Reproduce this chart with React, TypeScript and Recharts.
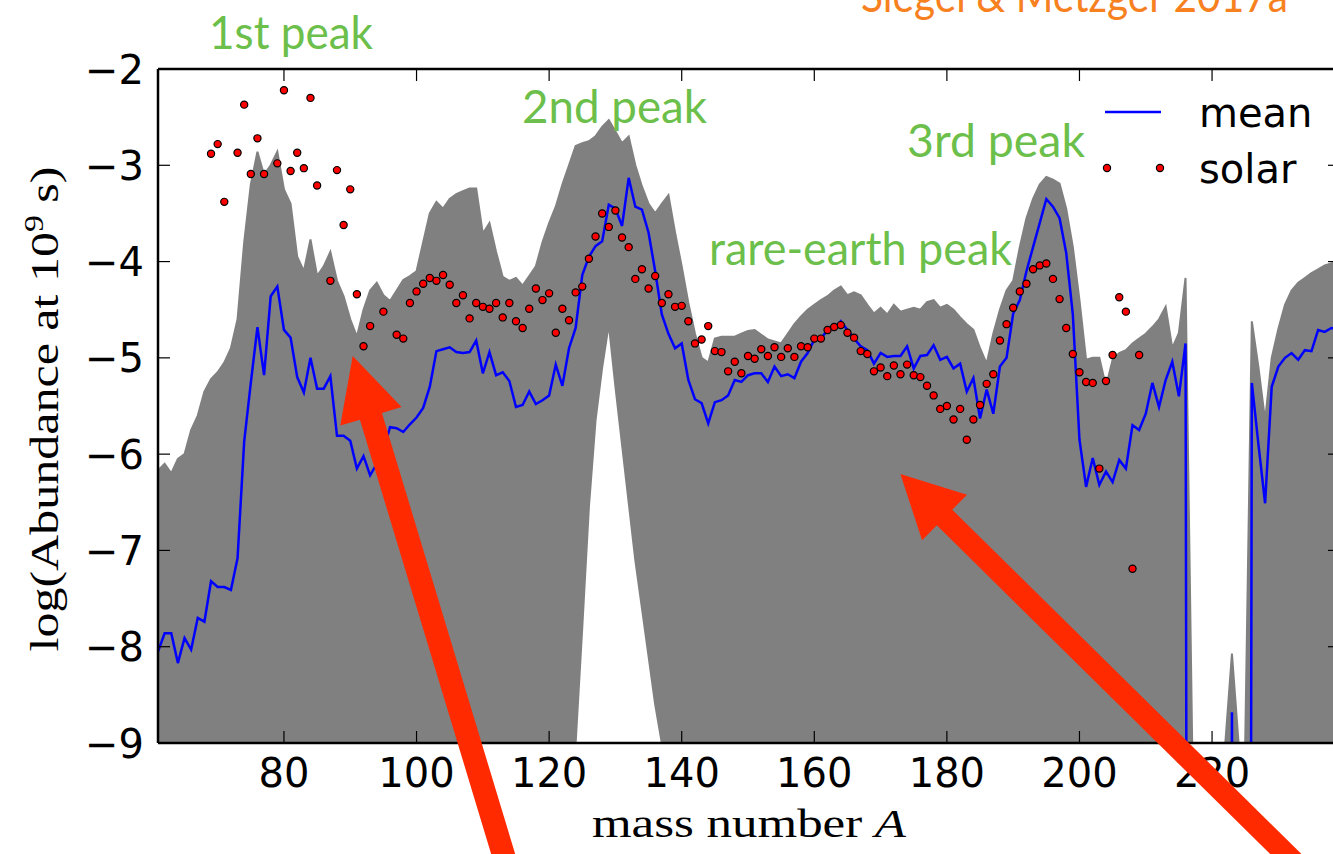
import React from 'react';
import { ComposedChart, Area, Line, XAxis, YAxis, Legend } from 'recharts';

// mass numbers run from 61 upward in steps of one
const MASS_FIRST = 61;

// mean log abundance at 1e9 s, A = 61..239 (very low values fall below the frame)
const meanAbund = [
  -8.05, -7.86, -7.86, -8.17, -7.91, -8.03, -7.70, -7.74, -7.32, -7.38,
  -7.38, -7.41, -7.08, -5.87, -5.26, -4.68, -5.18, -4.36, -4.26, -4.71,
  -4.79, -5.20, -5.36, -5.00, -5.32, -5.32, -5.19, -5.81, -5.81, -5.86,
  -6.15, -6.02, -6.22, -6.10, -5.96, -5.72, -5.73, -5.77, -5.69, -5.62,
  -5.52, -5.30, -4.93, -4.91, -4.89, -4.94, -4.95, -4.94, -4.82, -5.16,
  -4.94, -5.18, -5.15, -5.24, -5.51, -5.49, -5.35, -5.48, -5.44, -5.39,
  -5.07, -5.29, -4.90, -4.69, -4.14, -3.95, -3.84, -3.79, -3.41, -3.45,
  -3.63, -3.13, -3.43, -3.46, -3.70, -4.10, -4.55, -4.75, -4.90, -4.85,
  -5.23, -5.43, -5.47, -5.68, -5.46, -5.44, -5.39, -5.23, -5.25, -5.18,
  -5.16, -5.16, -5.25, -5.09, -5.19, -5.17, -5.21, -5.04, -4.95, -4.81,
  -4.80, -4.71, -4.69, -4.62, -4.71, -4.80, -4.88, -4.92, -5.06, -4.95,
  -4.99, -4.98, -4.98, -4.88, -5.11, -4.98, -4.97, -4.87, -5.02, -4.99,
  -5.11, -5.06, -5.35, -5.21, -5.63, -5.33, -5.58, -5.09, -5.00, -4.54,
  -4.40, -4.10, -3.85, -3.60, -3.35, -3.43, -3.55, -3.91, -4.55, -5.85,
  -6.34, -6.04, -6.32, -6.18, -6.29, -6.06, -6.15, -5.70, -5.75, -5.58,
  -5.26, -5.51, -5.23, -5.04, -5.40, -4.85, -40, -40, -40, -40,
  -40, -40, -8.68, -40, -40, -5.26, -5.90, -6.51, -5.30, -5.09,
  -5.00, -4.95, -5.02, -4.92, -4.93, -4.71, -4.73, -4.69, -4.70,
];

// upper edge of the bundle of individual runs
const envTop = [
  -6.17, -6.10, -6.20, -6.05, -6.00, -5.75, -5.60, -5.35, -5.22, -5.15,
  -5.05, -4.90, -4.60, -3.80, -3.20, -2.86, -3.10, -3.00, -2.86, -3.25,
  -3.40, -3.95, -4.10, -3.77, -4.15, -4.05, -3.90, -4.20, -4.36, -4.60,
  -4.78, -4.50, -4.30, -4.22, -4.35, -4.41, -4.30, -4.19, -4.15, -4.10,
  -3.80, -3.50, -3.38, -3.45, -3.35, -3.30, -3.27, -3.24, -3.24, -3.71,
  -3.60, -3.90, -4.16, -4.20, -4.17, -4.25, -4.15, -4.05, -3.80, -3.60,
  -3.43, -3.20, -3.00, -2.80, -2.77, -2.75, -2.70, -2.60, -2.53, -2.65,
  -2.77, -2.70, -3.00, -3.22, -3.40, -3.50, -3.40, -3.31, -3.70, -4.05,
  -4.43, -4.75, -5.00, -5.05, -4.80, -4.78, -4.78, -4.78, -4.75, -4.72,
  -4.71, -4.76, -4.81, -4.83, -4.85, -4.75, -4.65, -4.57, -4.50, -4.45,
  -4.40, -4.36, -4.30, -4.26, -4.35, -4.32, -4.35, -4.45, -4.54, -4.48,
  -4.55, -4.45, -4.52, -4.50, -4.48, -4.50, -4.42, -4.40, -4.48, -4.45,
  -4.50, -4.58, -4.65, -4.71, -4.90, -5.06, -4.75, -4.50, -4.30, -4.20,
  -3.85, -3.55, -3.35, -3.20, -3.12, -3.15, -3.19, -3.45, -3.85, -4.40,
  -5.02, -5.00, -5.00, -5.30, -5.02, -4.95, -4.92, -4.85, -4.80, -4.75,
  -4.68, -4.60, -4.47, -4.90, -4.74, -4.17, -9, -9, -9, -9,
  -9, -9, -8.07, -9, -9, -4.62, -5.10, -5.65, -5.00, -4.70,
  -4.45, -4.30, -4.22, -4.17, -4.12, -4.08, -4.04, -4.02, -4.00,
];

// lower edge of the bundle where it lifts off the frame (the gap under the 2nd peak)
const envFloor: Record<number, number> = {
  125: -7.8, 126: -6.55, 127: -5.65, 128: -5.1, 129: -4.65,
  130: -5.3, 131: -5.9, 132: -6.5, 133: -7.1, 134: -7.6, 135: -8.1, 136: -8.6,
};

// solar r-process abundances, aligned with the mass numbers (null = no point)
const solarAbund: (number | null)[] = [
  null, null, null, null, null, null, null, null, -2.88, -2.78,
  -3.38, null, -2.87, -2.37, -3.09, -2.72, -3.09, null, -2.98, -2.22,
  -3.06, -2.87, -3.03, -2.30, -3.21, null, -4.20, -3.05, -3.62, -3.25,
  -4.34, -4.88, -4.67, null, -4.52, null, -4.76, -4.80, -4.43, -4.31,
  -4.23, -4.17, -4.20, -4.14, -4.24, -4.43, -4.35, -4.59, -4.43, -4.47,
  -4.49, -4.43, -4.58, -4.43, -4.62, -4.69, -4.49, -4.28, -4.40, -4.33,
  -4.74, -4.49, -4.61, -4.32, -4.26, -3.97, -3.74, -3.50, -3.64, -3.47,
  -3.75, -3.85, -4.18, -4.08, -4.28, -4.15, -4.43, -4.34, -4.47, -4.46,
  -4.62, -4.85, -4.81, -4.67, -4.93, -4.94, -5.14, -5.04, -5.16, -4.98,
  -5.01, -4.91, -4.98, -4.89, -4.99, -4.90, -4.99, -4.88, -4.89, -4.80,
  -4.80, -4.71, -4.68, -4.66, -4.74, -4.79, -4.93, -4.96, -5.14, -5.10,
  -5.19, -5.08, -5.17, -5.07, -5.18, -5.20, -5.29, -5.39, -5.53, -5.50,
  -5.64, -5.53, -5.85, -5.64, -5.49, -5.27, -5.17, -4.82, -4.65, -4.48,
  -4.31, -4.23, -4.08, -4.04, -4.02, -4.18, -4.39, -4.69, -4.96, -5.15,
  -5.25, -5.26, -6.15, -5.24, -4.97, -4.37, -4.52, -7.19, -4.97, null,
];

const xTicks = [80, 100, 120, 140, 160, 180, 200, 220];
const yTicks = [-9, -8, -7, -6, -5, -4, -3, -2];

const peakLabels = [
  { text: '1st peak', x: 209, y: 49, w: 164 },
  { text: '2nd peak', x: 522, y: 123, w: 185 },
  { text: '3rd peak', x: 907, y: 157, w: 178 },
  { text: 'rare-earth peak', x: 709, y: 265, w: 303 },
];

const data = meanAbund.map((mean, i) => {
  const A = MASS_FIRST + i;
  return {
    A,
    mean,
    band: [envFloor[A] ?? -9, envTop[i]],
    solar: i < solarAbund.length ? solarAbund[i] : null,
  };
});

const TICK_LEN = 12;
const TICK_FONT = 'DejaVu Sans';
const GREEN = '#6cbf4a';
const ARROW_RED = '#ff2a00';

const fmt = (v: number) => (v < 0 ? '\u2212' + Math.abs(v) : String(v));

const BottomTick = ({ x, y, payload }: any) => (
  <g>
    <line x1={x} x2={x} y1={y} y2={y - TICK_LEN} stroke="#000" strokeWidth={1.2} />
    <text x={x} y={y + 44} textAnchor="middle" fontFamily={TICK_FONT} fontSize={40} fill="#000">
      {fmt(payload.value)}
    </text>
  </g>
);

const TopTick = ({ x, y }: any) => (
  <line x1={x} x2={x} y1={y} y2={y + TICK_LEN} stroke="#000" strokeWidth={1.2} />
);

const LeftTick = ({ x, y, payload }: any) => (
  <g>
    <line x1={x} x2={x + TICK_LEN} y1={y} y2={y} stroke="#000" strokeWidth={1.2} />
    <text x={x - 14} y={y + 14.5} textAnchor="end" fontFamily={TICK_FONT} fontSize={40} fill="#000">
      {fmt(payload.value)}
    </text>
  </g>
);

const RightTick = ({ x, y }: any) => (
  <line x1={x} x2={x - TICK_LEN} y1={y} y2={y} stroke="#000" strokeWidth={1.2} />
);

const XTitle = ({ viewBox }: any) => (
  <text
    x={viewBox.x + viewBox.width / 2}
    y={viewBox.y + 94}
    textAnchor="middle"
    fontFamily="Liberation Serif"
    fontSize={40}
    textLength={314}
    lengthAdjust="spacingAndGlyphs"
  >
    mass number <tspan fontStyle="italic">A</tspan>
  </text>
);

const YTitle = ({ viewBox }: any) => {
  const cx = viewBox.x - 20;
  const cy = viewBox.y + viewBox.height / 2 + 3;
  return (
    <text
      x={cx}
      y={cy}
      transform={`rotate(-90, ${cx}, ${cy})`}
      textAnchor="middle"
      fontFamily="Liberation Serif"
      fontSize={40}
      textLength={485}
      lengthAdjust="spacingAndGlyphs"
    >
      log(Abundance at 10
      <tspan dy={-15} fontSize={27}>9</tspan>
      <tspan dy={15}> s)</tspan>
    </text>
  );
};

// legend: blue line for the mean, a pair of red dots for solar
const LegendBox = ({ payload }: any) => {
  const entries = (payload || []).filter((e: any) => e.type === 'line' || e.type === 'circle');
  return (
    <svg width={230} height={110}>
      {entries.map((entry: any, i: number) => {
        const cy = 27 + i * 56;
        return (
          <g key={entry.value}>
            {entry.type === 'line' ? (
              <line x1={10} x2={66} y1={cy} y2={cy} stroke="#0000ff" strokeWidth={2.5} />
            ) : (
              <>
                <circle cx={12} cy={cy} r={3.6} fill="#ff0000" stroke="#000" strokeWidth={1.2} />
                <circle cx={65} cy={cy} r={3.6} fill="#ff0000" stroke="#000" strokeWidth={1.2} />
              </>
            )}
            <text x={104} y={cy + 15} fontFamily={TICK_FONT} fontSize={40} fill="#000">
              {entry.value}
            </text>
          </g>
        );
      })}
    </svg>
  );
};

// big annotation arrow: tip, tail, shaft width, head width, head length
function arrowPoints(tip: number[], tail: number[], shaft: number, headW: number, headL: number) {
  const dx = tail[0] - tip[0];
  const dy = tail[1] - tip[1];
  const len = Math.hypot(dx, dy);
  const ux = dx / len;
  const uy = dy / len;
  const px = uy;
  const py = -ux;
  const bx = tip[0] + ux * headL;
  const by = tip[1] + uy * headL;
  const pts = [
    [tip[0], tip[1]],
    [bx + px * headW / 2, by + py * headW / 2],
    [bx + px * shaft / 2, by + py * shaft / 2],
    [tail[0] + px * shaft / 2, tail[1] + py * shaft / 2],
    [tail[0] - px * shaft / 2, tail[1] - py * shaft / 2],
    [bx - px * shaft / 2, by - py * shaft / 2],
    [bx - px * headW / 2, by - py * headW / 2],
  ];
  return pts.map((p) => p.join(',')).join(' ');
}

export default function App() {
  return (
    <div
      style={{
        position: 'absolute',
        left: 0,
        top: 0,
        width: 1333,
        height: 854,
        overflow: 'hidden',
        background: '#fff',
      }}
    >
      <ComposedChart
        width={1350}
        height={854}
        data={data}
        margin={{ top: 49, right: 0, bottom: 51, left: 78 }}
      >
        <XAxis
          dataKey="A"
          type="number"
          domain={[61, 239.3]}
          allowDataOverflow
          ticks={xTicks}
          interval={0}
          height={60}
          tickSize={0}
          tickMargin={0}
          tickLine={false}
          tick={<BottomTick />}
          axisLine={{ stroke: '#000', strokeWidth: 2.5 }}
          label={(p: any) => <XTitle {...p} />}
        />
        <XAxis
          xAxisId="top"
          orientation="top"
          dataKey="A"
          type="number"
          domain={[61, 239.3]}
          allowDataOverflow
          ticks={xTicks}
          interval={0}
          height={20}
          tickSize={0}
          tickMargin={0}
          tickLine={false}
          tick={<TopTick />}
          axisLine={{ stroke: '#000', strokeWidth: 2.5 }}
        />
        <YAxis
          type="number"
          domain={[-9, -2]}
          allowDataOverflow
          ticks={yTicks}
          interval={0}
          width={80}
          tickSize={0}
          tickMargin={0}
          tickLine={false}
          tick={<LeftTick />}
          axisLine={{ stroke: '#000', strokeWidth: 2.5 }}
          label={(p: any) => <YTitle {...p} />}
        />
        <YAxis
          yAxisId="right"
          orientation="right"
          type="number"
          domain={[-9, -2]}
          allowDataOverflow
          ticks={yTicks}
          interval={0}
          width={10}
          tickSize={0}
          tickMargin={0}
          tickLine={false}
          tick={<RightTick />}
          axisLine={{ stroke: '#000', strokeWidth: 2.5 }}
        />
        <Area
          dataKey="band"
          type="linear"
          stroke="#808080"
          strokeWidth={2}
          fill="#808080"
          fillOpacity={1}
          dot={false}
          activeDot={false}
          legendType="none"
          isAnimationActive={false}
        />
        <Line
          dataKey="mean"
          name="mean"
          type="linear"
          stroke="#0000ff"
          strokeWidth={2.5}
          dot={false}
          activeDot={false}
          legendType="line"
          isAnimationActive={false}
        />
        <Line
          dataKey="solar"
          name="solar"
          type="linear"
          stroke="none"
          dot={{ r: 3.6, fill: '#ff0000', stroke: '#000', strokeWidth: 1.2 }}
          activeDot={false}
          legendType="circle"
          isAnimationActive={false}
        />
        <Legend
          layout="vertical"
          align="center"
          verticalAlign="middle"
          content={<LegendBox />}
          wrapperStyle={{ left: 1095, top: 85, width: 230, height: 110 }}
        />
      </ComposedChart>

      <svg
        width={1333}
        height={854}
        style={{ position: 'absolute', left: 0, top: 0, pointerEvents: 'none' }}
      >
        <text
          x={861}
          y={12}
          fontFamily="Lato"
          fontSize={47}
          fill="#f7801f"
          textLength={427}
          lengthAdjust="spacingAndGlyphs"
        >
          Siegel &amp; Metzger 2017a
        </text>
        {peakLabels.map((l) => (
          <text
            key={l.text}
            x={l.x}
            y={l.y}
            fontFamily="Lato"
            fontSize={47}
            fill={GREEN}
            textLength={l.w}
            lengthAdjust="spacingAndGlyphs"
          >
            {l.text}
          </text>
        ))}
        <polygon points={arrowPoints([352.7, 356], [508, 870], 23, 64, 63)} fill={ARROW_RED} />
        <polygon points={arrowPoints([900.4, 474], [1298, 866], 22, 64, 62)} fill={ARROW_RED} />
      </svg>
    </div>
  );
}
